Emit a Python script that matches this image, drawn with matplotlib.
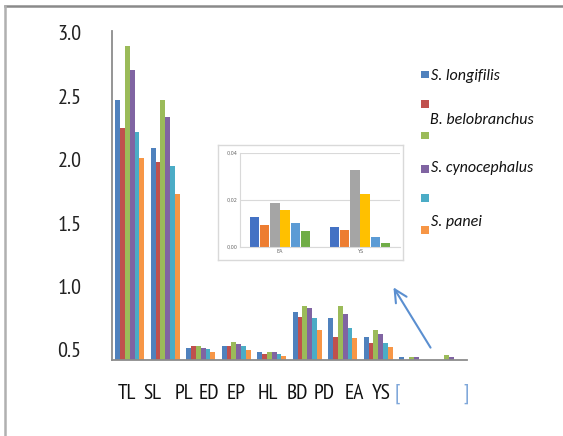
import matplotlib
matplotlib.use("Agg")
import matplotlib.pyplot as plt
import numpy as np
from matplotlib.patches import Rectangle, FancyArrowPatch
from matplotlib.lines import Line2D

TICKFONT = ["PT Sans Narrow", "Liberation Sans", "DejaVu Sans"]
LEGFONT = ["Carlito", "Liberation Sans", "DejaVu Sans"]

# ---------------- data ----------------
categories = ["TL", "SL", "PL", "ED", "EP", "HL", "BD", "PD", "EA", "YS"]
species = ["S. longifilis", "B. belobranchus", "", "S. cynocephalus", "", "S. panei"]
s_longifilis    = [2.47, 2.09, 0.513, 0.532, 0.482, 0.797, 0.75, 0.605, 0.447, 0.40]
b_belobranchus  = [2.25, 1.98, 0.532, 0.532, 0.466, 0.763, 0.605, 0.558, 0.40, 0.40]
series3         = [2.90, 2.47, 0.532, 0.561, 0.482, 0.842, 0.842, 0.655, 0.447, 0.46]
s_cynocephalus  = [2.71, 2.34, 0.513, 0.545, 0.482, 0.829, 0.78, 0.624, 0.447, 0.445]
series5         = [2.22, 1.95, 0.508, 0.534, 0.466, 0.75, 0.671, 0.558, 0.40, 0.40]
s_panei         = [2.01, 1.73, 0.48, 0.495, 0.453, 0.658, 0.592, 0.526, 0.40, 0.40]
main_series = [s_longifilis, b_belobranchus, series3, s_cynocephalus, series5, s_panei]
main_colors = ["#4F81BD", "#C0504D", "#9BBB59", "#8064A2", "#4BACC6", "#F79646"]
yticks = [0.5, 1.0, 1.5, 2.0, 2.5, 3.0]

# x tick label placement (as in the reference, labels are offset from groups)
tick_labels = categories + ["[", "]"]
tick_pos = [-0.08, 0.65, 1.52, 2.24, 2.99, 3.88, 4.71, 5.48, 6.32, 7.08, 7.54, 9.47]

# inset data
inset_cats = ["EA", "YS"]
inset_series = [
    [0.0125, 0.0082],
    [0.0092, 0.0071],
    [0.0187, 0.0326],
    [0.0156, 0.0224],
    [0.0099, 0.0043],
    [0.0068, 0.0014],
]
inset_colors = ["#4472C4", "#ED7D31", "#A5A5A5", "#FFC000", "#5B9BD5", "#70AD47"]
inset_yticks = [0.00, 0.02, 0.04]

W, H = 563, 436
fig = plt.figure(figsize=(W / 100, H / 100), dpi=100)
fig.patch.set_facecolor("white")

def fx(x):
    return x / W

def fy(y):
    return 1 - y / H

# ---------------- main axes ----------------
L, R, T, B = 112, 467, 31, 360
ax = fig.add_axes([fx(L), fy(B), fx(R) - fx(L), fy(T) - fy(B)])
x = np.arange(len(categories))
bw = 0.136
for i, (vals, c) in enumerate(zip(main_series, main_colors)):
    ax.bar(x + (i - 2.5) * bw, vals, bw, color=c, linewidth=0)
ax.set_xlim(-0.5, 9.5)
ax.set_ylim(0.42, 3.015)
ax.set_yticks(yticks)
ax.set_yticklabels([f"{v:.1f}" for v in yticks], fontsize=16, family=TICKFONT, color="#222222")
ax.tick_params(axis="y", length=0, pad=22)
ax.set_xticks(tick_pos)
ax.set_xticklabels(tick_labels, fontsize=15.5, family=TICKFONT, color="#111111")
ax.tick_params(axis="x", length=0, pad=17)
for lab in ax.get_xticklabels()[-2:]:
    lab.set_color("#7FA7DA")
for s in ["top", "right"]:
    ax.spines[s].set_visible(False)
for s in ["left", "bottom"]:
    ax.spines[s].set_color("#8C8C8C")
    ax.spines[s].set_linewidth(1.3)

# ---------------- inset frame ----------------
frame = fig.add_axes([fx(218), fy(260), fx(403) - fx(218), fy(145) - fy(260)])
frame.set_xticks([]); frame.set_yticks([])
for s in frame.spines.values():
    s.set_color("#D9D9D9"); s.set_linewidth(1.0)

ins = fig.add_axes([fx(240), fy(246.7), fx(400) - fx(240), fy(152.7) - fy(246.7)])
ix = np.arange(len(inset_cats))
ibw = 0.128
for i, (vals, c) in enumerate(zip(inset_series, inset_colors)):
    ins.bar(ix + (i - 2.5) * ibw, vals, ibw * 0.92, color=c, linewidth=0)
ins.set_xlim(-0.5, 1.5)
ins.set_ylim(0, 0.04)
ins.set_yticks(inset_yticks)
ins.set_yticklabels([f"{v:.2f}".replace(".", ",") for v in inset_yticks], fontsize=3.5, color="#666666")
ins.set_xticks(ix)
ins.set_xticklabels(inset_cats, fontsize=3.5, color="#666666")
ins.tick_params(length=0, pad=2)
ins.yaxis.grid(True, color="#D9D9D9", linewidth=0.8)
ins.set_axisbelow(True)
for s in ["top", "right"]:
    ins.spines[s].set_visible(False)
ins.spines["left"].set_color("#D9D9D9")
ins.spines["bottom"].set_color("#D9D9D9")

# ---------------- legend (manual, as in reference) ----------------
sq_y = [74.5, 104, 135.5, 169, 198, 230]
txt_pos = [(431, 76), (430, 120), None, (431, 168), None, (431, 222)]
for c, yy, lab, tp in zip(main_colors, sq_y, species, txt_pos):
    fig.patches.append(Rectangle((fx(421), fy(yy + 3.8)), 7.5 / W, 7.5 / H,
                                 transform=fig.transFigure, facecolor=c, edgecolor="none"))
    if tp is not None and lab:
        fig.text(fx(tp[0]), fy(tp[1]), lab, fontsize=11.5, style="italic", family=LEGFONT,
                 va="center", ha="left", color="#111111")

# ---------------- arrow ----------------
fig.add_artist(FancyArrowPatch(
    (fx(432), fy(350)), (fx(392), fy(285)), transform=fig.transFigure,
    arrowstyle="->,head_length=6,head_width=3", color="#5B8FD0", linewidth=1.5,
    mutation_scale=1.5))

# ---------------- border lines ----------------
fig.add_artist(Line2D([fx(5), 1.0], [fy(6), fy(6)], transform=fig.transFigure,
                      color="#8A8A8A", linewidth=1.8))
fig.add_artist(Line2D([fx(5), fx(5)], [fy(6), 0.0], transform=fig.transFigure,
                      color="#B0B0B0", linewidth=1.8))

fig.savefig("out.png", dpi=100)
